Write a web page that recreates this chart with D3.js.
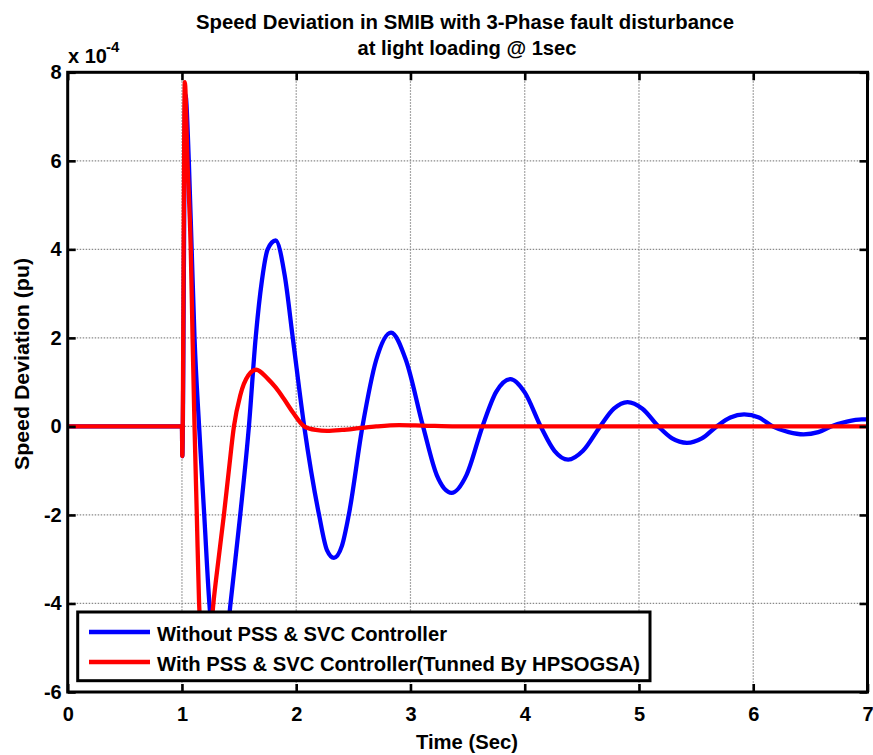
<!DOCTYPE html>
<html><head><meta charset="utf-8">
<script src="https://cdn.jsdelivr.net/npm/d3@7"></script>
<style>
body{margin:0;background:#fff}
svg{display:block}
text{font-family:"Liberation Sans",Arial,Helvetica,sans-serif;font-weight:bold;fill:#000}
</style>
</head><body><svg id="c" width="873" height="755"></svg>
<script>
// ---- data (values in units of 1e-4 pu) ----
const titleLines = ["Speed Deviation in SMIB with 3-Phase fault disturbance", "at light loading @ 1sec"];
const xLabel = "Time (Sec)";
const yLabel = "Speed Deviation (pu)";
const yExponent = ["x 10", "-4"];
const xTicks = [0, 1, 2, 3, 4, 5, 6, 7];
const yTicks = [-6, -4, -2, 0, 2, 4, 6, 8];
const seriesNames = ["Without PSS & SVC Controller", "With PSS & SVC Controller(Tunned By HPSOGSA)"];
const seriesColors = ["#0000ff", "#ff0000"];

const blueTime  = [0, 1.0, 1.003, 1.03, 1.06, 1.085, 1.11, 1.15, 1.195, 1.24, 1.28, 1.33, 1.38, 1.425, 1.51, 1.586, 1.645, 1.70, 1.75, 1.82, 1.90, 1.97, 2.07, 2.20, 2.27, 2.33, 2.40, 2.46, 2.58, 2.70, 2.83, 2.96, 3.11, 3.23, 3.36, 3.49, 3.63, 3.75, 3.876, 4.00, 4.14, 4.26, 4.38, 4.51, 4.66, 4.78, 4.90, 5.03, 5.17, 5.29, 5.42, 5.55, 5.68, 5.80, 5.92, 6.05, 6.17, 6.31, 6.44, 6.57, 6.68, 6.82, 6.95, 7.0];
const blueValue = [0, 0, -0.67, 7.5, 6, 4, 2, 0, -2, -4, -5.1, -5.5, -5.1, -4, -2, 0, 2, 3.3, 4.0, 4.2, 3.4, 2.0, 0, -2.0, -2.8, -2.97, -2.7, -2.0, 0, 1.5, 2.12, 1.5, 0, -1.1, -1.5, -1.1, 0, 0.78, 1.07, 0.77, 0, -0.55, -0.75, -0.55, 0, 0.4, 0.55, 0.4, 0, -0.27, -0.37, -0.27, 0, 0.2, 0.27, 0.2, 0, -0.13, -0.18, -0.13, 0, 0.11, 0.16, 0.16];

const redTime  = [0, 1.0, 1.003, 1.025, 1.048, 1.077, 1.093, 1.11, 1.13, 1.15, 1.18, 1.21, 1.24, 1.275, 1.32, 1.367, 1.41, 1.455, 1.51, 1.58, 1.65, 1.75, 1.82, 1.89, 1.97, 2.07, 2.17, 2.27, 2.40, 2.55, 2.70, 2.90, 3.10, 3.40, 7.0];
const redValue = [0, 0, -0.67, 7.78, 6, 4, 2, 0, -2, -4, -5.0, -5.3, -5.0, -4, -3.0, -2, -1.0, 0, 0.7, 1.15, 1.28, 1.08, 0.88, 0.63, 0.32, 0, -0.08, -0.1, -0.08, -0.04, 0, 0.03, 0.02, 0, 0];

// ---- layout ----
const L = 67.7, R = 867.5, T = 72.3, B = 692;
const svg = d3.select("#c");
const x = d3.scaleLinear().domain([0, 7]).range([L, R]);
const y = d3.scaleLinear().domain([-6, 8]).range([B, T]);
const fmt = d => String(d);

// grid
const grid = svg.append("g").attr("stroke", "#8a8a8a").attr("stroke-width", 1.2).attr("stroke-dasharray", "1.5,1.5");
grid.selectAll("line.gx").data(xTicks.filter(d => d > 0 && d < 7)).join("line")
  .attr("x1", d => x(d)).attr("x2", d => x(d)).attr("y1", T).attr("y2", B);
grid.selectAll("line.gy").data(yTicks.filter(d => d > -6 && d < 8)).join("line")
  .attr("x1", L).attr("x2", R).attr("y1", d => y(d)).attr("y2", d => y(d));

// curves
svg.append("clipPath").attr("id", "clip").append("rect").attr("x", L).attr("y", T).attr("width", R - L).attr("height", B - T);
const line = d3.line().x(d => x(d[0])).y(d => y(d[1])).curve(d3.curveMonotoneX);
const series = [d3.zip(blueTime, blueValue), d3.zip(redTime, redValue)];
svg.append("g").attr("clip-path", "url(#clip)").selectAll("path").data(series).join("path")
  .attr("d", line).attr("fill", "none").attr("stroke", (d, i) => seriesColors[i])
  .attr("stroke-width", 4.3).attr("stroke-linejoin", "round").attr("stroke-linecap", "round");

// axes
function styleAxis(g, hideText) {
  g.select(".domain").remove();
  g.selectAll(".tick line").attr("stroke", "#000").attr("stroke-width", 2.6);
  g.selectAll(".tick text").attr("font-size", 20).attr("font-weight", "bold")
    .attr("font-family", "'Liberation Sans',Arial,sans-serif").attr("fill", "#000");
  if (hideText) g.selectAll(".tick text").remove();
}
svg.append("g").attr("transform", `translate(0,${B})`)
  .call(d3.axisBottom(x).tickValues(xTicks).tickSize(-8).tickPadding(15).tickFormat(fmt))
  .call(g => styleAxis(g, false));
svg.append("g").attr("transform", `translate(0,${T})`)
  .call(d3.axisTop(x).tickValues(xTicks).tickSize(-8).tickFormat(""))
  .call(g => styleAxis(g, true));
svg.append("g").attr("transform", `translate(${L},0)`)
  .call(d3.axisLeft(y).tickValues(yTicks).tickSize(-8).tickPadding(6).tickFormat(fmt))
  .call(g => styleAxis(g, false));
svg.append("g").attr("transform", `translate(${R},0)`)
  .call(d3.axisRight(y).tickValues(yTicks).tickSize(-8).tickFormat(""))
  .call(g => styleAxis(g, true));

// box
svg.append("rect").attr("x", L).attr("y", T).attr("width", R - L).attr("height", B - T)
  .attr("fill", "none").attr("stroke", "#000").attr("stroke-width", 3);

// titles
svg.append("text").attr("x", 465).attr("y", 29).attr("text-anchor", "middle").attr("font-size", 20)
  .attr("textLength", 538).attr("lengthAdjust", "spacingAndGlyphs").text(titleLines[0]);
svg.append("text").attr("x", 467).attr("y", 55).attr("text-anchor", "middle").attr("font-size", 20)
  .attr("textLength", 219).attr("lengthAdjust", "spacingAndGlyphs").text(titleLines[1]);
svg.append("text").attr("x", 467).attr("y", 749).attr("text-anchor", "middle").attr("font-size", 20)
  .attr("textLength", 102).attr("lengthAdjust", "spacingAndGlyphs").text(xLabel);
svg.append("text").attr("transform", "translate(29,364) rotate(-90)").attr("text-anchor", "middle").attr("font-size", 20)
  .attr("textLength", 212).attr("lengthAdjust", "spacingAndGlyphs").text(yLabel);
svg.append("text").attr("x", 68).attr("y", 63).attr("font-size", 20).text(yExponent[0]);
svg.append("text").attr("x", 106).attr("y", 52).attr("font-size", 15).text(yExponent[1]);

// legend
const lg = svg.append("g");
lg.append("rect").attr("x", 77.7).attr("y", 612).attr("width", 572.3).attr("height", 68.7)
  .attr("fill", "#fff").attr("stroke", "#000").attr("stroke-width", 3);
const legendW = [290, 483];
seriesNames.forEach((name, i) => {
  const yy = 632 + i * 30;
  lg.append("line").attr("x1", 89).attr("x2", 150).attr("y1", yy).attr("y2", yy)
    .attr("stroke", seriesColors[i]).attr("stroke-width", 4.5);
  lg.append("text").attr("x", 157).attr("y", yy + 9).attr("font-size", 20)
    .attr("textLength", legendW[i]).attr("lengthAdjust", "spacingAndGlyphs").text(name);
});
</script>
</body></html>
